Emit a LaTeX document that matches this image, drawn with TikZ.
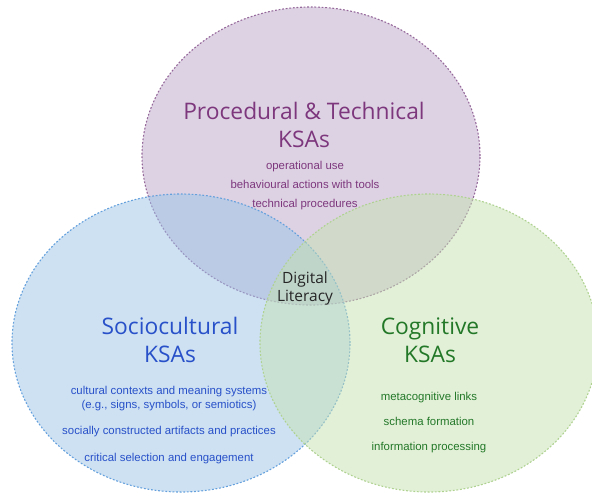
\documentclass[tikz,border=0pt]{standalone}
\usepackage{fontspec}
\setmainfont{Liberation Sans}
\newfontfamily\TitleFont{Open Sans}
\usetikzlibrary{shapes.geometric}
\definecolor{ProcFill}{RGB}{187,165,199}
\definecolor{ProcLine}{RGB}{150,105,155}
\definecolor{ProcText}{RGB}{125,55,125}
\definecolor{SocFill}{RGB}{155,195,231}
\definecolor{SocLine}{RGB}{100,160,220}
\definecolor{SocText}{RGB}{40,80,200}
\definecolor{CogFill}{RGB}{197,225,177}
\definecolor{CogLine}{RGB}{175,210,145}
\definecolor{CogText}{RGB}{35,120,40}
\tikzstyle{Domain}=[ellipse,inner sep=0pt,minimum width=338pt,minimum height=298pt,
fill opacity=.5,line width=1.1pt,dash pattern=on 1.8pt off 1.8pt]
\tikzstyle{DomainTitle}=[font=\TitleFont\fontsize{22.8}{28}\selectfont,align=center]
\tikzstyle{DomainItems}=[font=\fontsize{11.4}{19}\selectfont,align=center]

\begin{document}
\begin{tikzpicture}[x=1pt,y=-1pt]
        \useasboundingbox(0,0)rectangle(592,499);
        % the three overlapping domains
        \node[Domain,draw=ProcLine,fill=ProcFill](proc)at(311,156){};
        \node[Domain,draw=SocLine,fill=SocFill](soc)at(181,343){};
        \node[Domain,draw=CogLine,fill=CogFill](cog)at(429,343){};
        % labels
        \node[DomainTitle,text=ProcText](procTitle)at(304,125){Procedural \& Technical\\KSAs};
        \node[DomainItems,text=ProcText](procItems)at(305,186){operational use\\behavioural actions with tools\\technical procedures};
        \node[DomainTitle,text=SocText](socTitle)at(170,340){Sociocultural\\KSAs};
        \node[DomainItems,text=SocText,font=\fontsize{11.4}{13.5}\selectfont](socItems)at(169,425){cultural contexts and meaning systems\\(e.g., signs, symbols, or semiotics)\\[13pt]socially constructed artifacts and practices\\[13pt]critical selection and engagement};
        \node[DomainTitle,text=CogText](cogTitle)at(430,340){Cognitive\\KSAs};
        \node[DomainItems,text=CogText,font=\fontsize{11.4}{25}\selectfont](cogItems)at(429,423){metacognitive links\\schema formation\\information processing};
        \node[font=\TitleFont\fontsize{15.5}{18}\selectfont,align=center,text=black!85](lit)at(305,288){Digital\\Literacy};
    \end{tikzpicture}
\end{document}
